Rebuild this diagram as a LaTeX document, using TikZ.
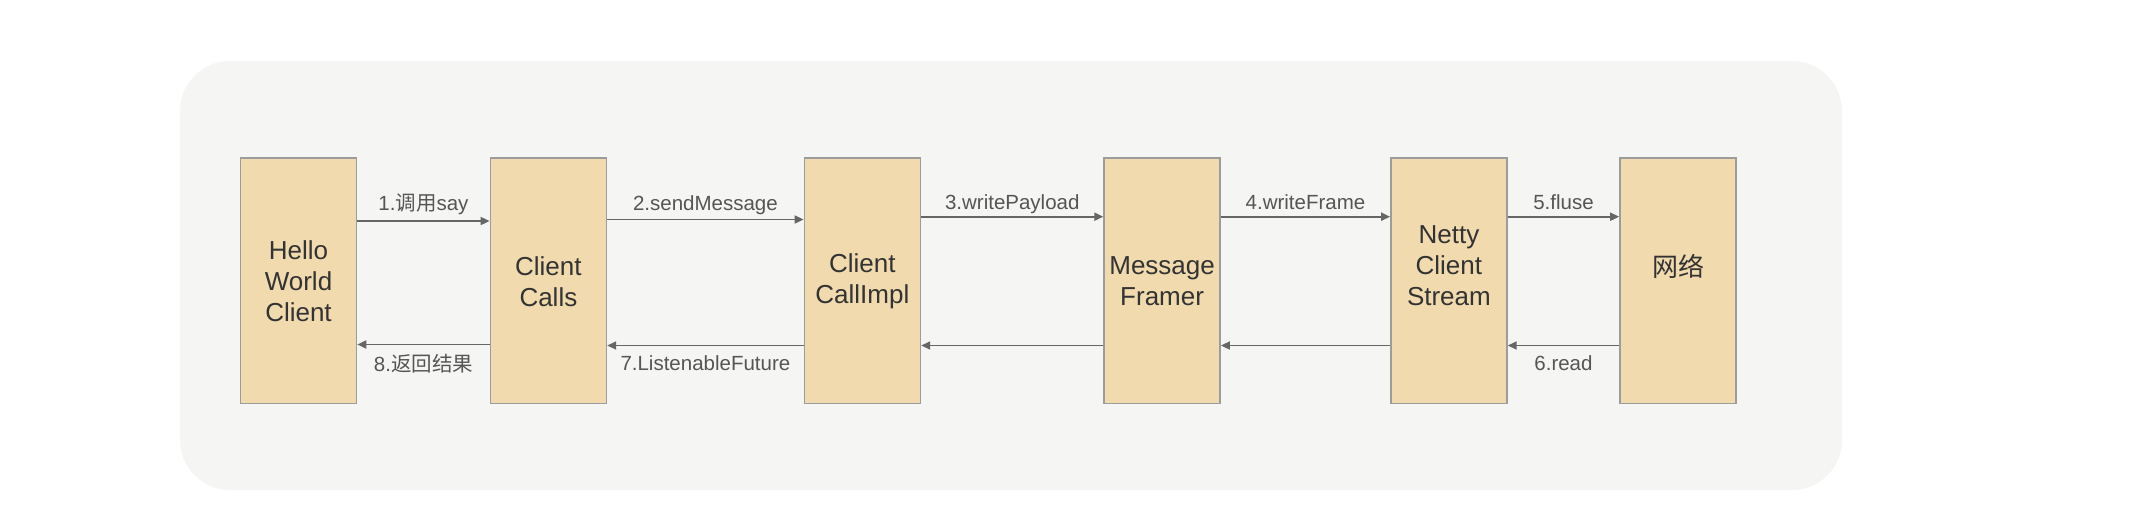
\documentclass[tikz,border=0pt]{standalone}
\usepackage{fontspec}
\setmainfont{Liberation Sans}
\newfontfamily\cjk{Noto Sans CJK SC}
\usetikzlibrary{arrows.meta,calc}
\definecolor{bgpanel}{HTML}{F5F5F3}
\definecolor{boxfill}{HTML}{F0DAAE}
\definecolor{boxline}{HTML}{9C9C9C}
\definecolor{boxtext}{HTML}{333333}
\definecolor{lbltext}{HTML}{555555}
\definecolor{arrline}{HTML}{666666}
\tikzset{
  stagebox/.style={draw=boxline, line width=1.6pt, fill=boxfill, minimum width=116pt, minimum height=245.6pt, inner sep=0pt},
  boxlbl/.style={text=boxtext, font=\fontsize{26}{31}\selectfont, align=center, inner sep=0pt},
  lbl/.style={text=lbltext, font=\fontsize{20.5}{24}\selectfont, inner sep=0pt, anchor=base},
  arr/.style={draw=arrline, line width=1.8pt, -{Triangle[length=9pt,width=8pt]}}
}
\begin{document}
\begin{tikzpicture}[x=1pt,y=-1pt]
\useasboundingbox (0,0) rectangle (2142,528);
\fill[bgpanel, rounded corners=50pt] (180,61) rectangle (1842,490);
% boxes
\node[stagebox] (b1) at (298.5,280.5) {};
\node[stagebox] (b2) at (548.4,280.5) {};
\node[stagebox] (b3) at (862.4,280.5) {};
\node[stagebox] (b4) at (1162.1,280.5) {};
\node[stagebox] (b5) at (1448.9,280.5) {};
\node[stagebox] (b6) at (1678,280.5) {};
% box texts
\node[boxlbl] (t1) at (298.5,281.5) {Hello\\World\\Client};
\node[boxlbl] (t2) at (548.4,281.5) {Client\\Calls};
\node[boxlbl] (t3) at (862.4,281.5) {Client\\CallImpl};
\node[boxlbl] (t4) at (1162.1,281.5) {Message\\Framer};
\node[boxlbl] (t5) at (1448.9,266) {Netty\\Client\\Stream};
\node[boxlbl] (t6) at (1678,266) {\cjk 网络};
% midpoints between boxes
\coordinate (m12) at ($(b1.east)!0.5!(b2.west)$);
\coordinate (m23) at ($(b2.east)!0.5!(b3.west)$);
\coordinate (m34) at ($(b3.east)!0.5!(b4.west)$);
\coordinate (m45) at ($(b4.east)!0.5!(b5.west)$);
\coordinate (m56) at ($(b5.east)!0.5!(b6.west)$);
% forward arrows
\draw[arr] (b1.east |- 0,221) -- (b2.west |- 0,221);
\draw[arr] (b2.east |- 0,219.5) -- (b3.west |- 0,219.5);
\draw[arr] (b3.east |- 0,216.7) -- (b4.west |- 0,216.7);
\draw[arr] (b4.east |- 0,216.7) -- (b5.west |- 0,216.7);
\draw[arr] (b5.east |- 0,216.7) -- (b6.west |- 0,216.7);
% backward arrows
\draw[arr] (b6.west |- 0,345.5) -- (b5.east |- 0,345.5);
\draw[arr] (b5.west |- 0,345.5) -- (b4.east |- 0,345.5);
\draw[arr] (b4.west |- 0,345.5) -- (b3.east |- 0,345.5);
\draw[arr] (b3.west |- 0,345.5) -- (b2.east |- 0,345.5);
\draw[arr] (b2.west |- 0,344.5) -- (b1.east |- 0,344.5);
% labels
\node[lbl] (l1) at (m12 |- 0,210.5) {1.{\cjk 调用}say};
\node[lbl] (l2) at (m23 |- 0,210) {2.sendMessage};
\node[lbl] (l3) at (m34 |- 0,209) {3.writePayload};
\node[lbl] (l4) at (m45 |- 0,209) {4.writeFrame};
\node[lbl] (l5) at (m56 |- 0,209) {5.fluse};
\node[lbl] (l6) at (m56 |- 0,370.5) {6.read};
\node[lbl] (l7) at (m23 |- 0,370.5) {7.ListenableFuture};
\node[lbl] (l8) at (m12 |- 0,371.5) {8.{\cjk 返回结果}};
\end{tikzpicture}
\end{document}
